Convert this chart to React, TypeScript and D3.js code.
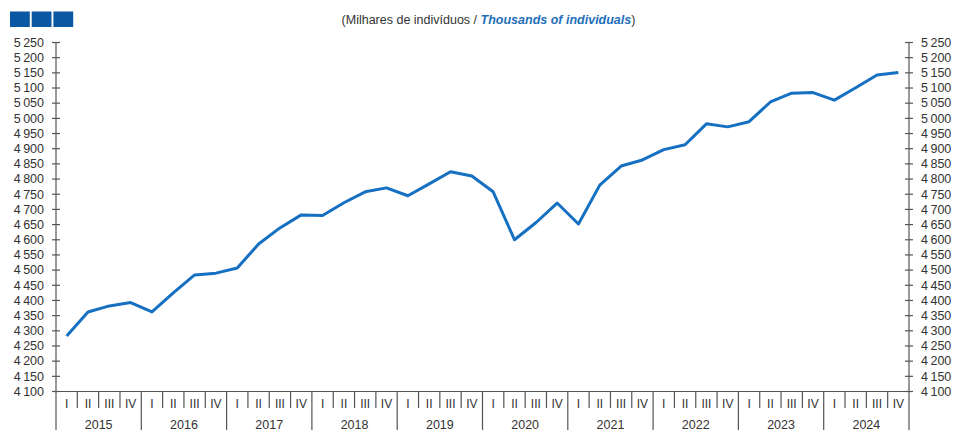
import React from "react";
import * as d3 from "d3";

const years = ["2015", "2016", "2017", "2018", "2019", "2020", "2021", "2022", "2023", "2024"];
const quarters = ["I", "II", "III", "IV"];
const values = [
  4283, 4362, 4382, 4393,
  4362, 4425, 4484, 4490,
  4507, 4586, 4639, 4682,
  4680, 4722, 4758, 4771,
  4745, 4784, 4824, 4810,
  4758, 4600, 4656, 4721,
  4652, 4780, 4843, 4863,
  4897, 4913, 4982, 4972,
  4989, 5054, 5083, 5085,
  5060, 5101, 5143, 5151,
];
const yTicks = d3.range(4100, 5251, 50);

const W = 954;
const H = 430;
const left = 56;
const right = 909;
const top = 42.5;
const bottom = 391.5;
const axisColor = "#555";
const lineColor = "#1670c2";
const font = "Liberation Sans, Arial, sans-serif";

const fmt = (v: number) => {
  const s = String(v);
  return s.length > 3 ? s.slice(0, s.length - 3) + "\u2009" + s.slice(-3) : s;
};

export default function App() {
  const n = values.length;
  const x = d3.scaleLinear().domain([0, n]).range([left, right]);
  const y = d3.scaleLinear().domain([4100, 5250]).range([bottom, top]);
  const line = d3
    .line<number>()
    .x((_, i) => x(i + 0.5))
    .y((d) => y(d));

  return (
    <div style={{ position: "absolute", left: 0, top: 0 }}>
      <svg width={W} height={H} style={{ display: "block", background: "#fff" }} fontFamily={font}>
        {/* logo */}
        {[0, 1, 2].map((i) => (
          <rect key={i} x={10 + i * 21.7} y={11.5} width={19.8} height={15.5} fill="#0a57a4" />
        ))}
        {/* title */}
        <text x={488.5} y={24} textAnchor="middle" fontSize={12.5} fill="#333">
          (Milhares de indivíduos /{" "}
          <tspan fill="#1f6fba" fontStyle="italic" fontWeight="bold">
            Thousands of individuals
          </tspan>
          )
        </text>
        {/* axes */}
        <line x1={left} x2={left} y1={top} y2={H} stroke={axisColor} strokeWidth={1.2} />
        <line x1={right} x2={right} y1={top} y2={H} stroke={axisColor} strokeWidth={1.2} />
        {yTicks.map((t) => (
          <g key={t}>
            <line x1={left - 4} x2={left + 4} y1={y(t)} y2={y(t)} stroke={axisColor} strokeWidth={1.2} />
            <text x={44} y={y(t) + 4.3} textAnchor="end" fontSize={12.5} fill="#333">
              {fmt(t)}
            </text>
            <line x1={right - 4} x2={right + 4} y1={y(t)} y2={y(t)} stroke={axisColor} strokeWidth={1.2} />
            <text x={921} y={y(t) + 4.3} textAnchor="start" fontSize={12.5} fill="#333">
              {fmt(t)}
            </text>
          </g>
        ))}
        <line x1={left} x2={right} y1={bottom} y2={bottom} stroke={axisColor} strokeWidth={1.2} />
        {values.map((_, i) => {
          const isYear = i % 4 === 0;
          return (
            <g key={i}>
              {i > 0 && (
                <line
                  x1={x(i)}
                  x2={x(i)}
                  y1={bottom}
                  y2={isYear ? H : 408}
                  stroke={axisColor}
                  strokeWidth={1.2}
                />
              )}
              <text x={x(i + 0.5)} y={408} textAnchor="middle" fontSize={12} fill="#333">
                {quarters[i % 4]}
              </text>
            </g>
          );
        })}
        {years.map((yr, j) => (
          <text key={yr} x={x(j * 4 + 2)} y={428.5} textAnchor="middle" fontSize={12.5} fill="#333">
            {yr}
          </text>
        ))}
        <path d={line(values) || ""} fill="none" stroke={lineColor} strokeWidth={3} strokeLinejoin="round" />
      </svg>
    </div>
  );
}
